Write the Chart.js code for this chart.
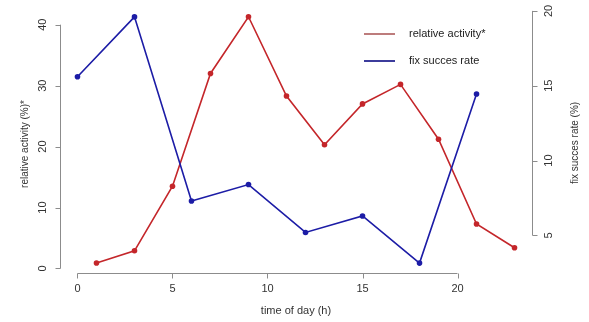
<!DOCTYPE html>
<html>
<head>
<meta charset="utf-8">
<script src="https://cdn.jsdelivr.net/npm/chart.js@4/dist/chart.umd.min.js"></script>
<style>
  html, body { margin: 0; padding: 0; background: #fff; }
  #wrap { width: 589px; height: 322px; }
</style>
</head>
<body>
<div id="wrap"><canvas id="chart1"></canvas></div>
<script>
// data
const hoursActivity = [1, 3, 5, 7, 9, 11, 13, 15, 17, 19, 21, 23];
const activity = [0.9, 2.9, 13.5, 32.0, 41.3, 28.3, 20.3, 27.0, 30.2, 21.2, 7.3, 3.4];

const hoursFix = [0, 3, 6, 9, 12, 15, 18, 21];
const fixRate = [15.6, 19.6, 7.3, 8.4, 5.2, 6.3, 3.15, 14.45];

const xTicks = [0, 5, 10, 15, 20];
const activityTicks = [0, 10, 20, 30, 40];
const fixTicks = [5, 10, 15, 20];

const FONT = "'Liberation Sans', Arial, Helvetica, sans-serif";

function toPoints(xs, ys) {
  return xs.map((h, i) => ({ x: h, y: ys[i] }));
}

// R style axes: line only from first to last tick, ticks outward, labels parallel to the axis
const rAxes = {
  id: 'rAxes',
  afterDraw(chart) {
    const ctx = chart.ctx;
    const area = chart.chartArea;
    const sx = chart.scales.x;
    const sa = chart.scales.yAct;
    const sf = chart.scales.yFix;
    ctx.save();
    ctx.strokeStyle = '#8c8c8c';
    ctx.lineWidth = 1;
    ctx.fillStyle = '#333';

    // x axis
    const yb = Math.round(area.bottom) + 0.5;
    ctx.beginPath();
    ctx.moveTo(sx.getPixelForValue(xTicks[0]), yb);
    ctx.lineTo(sx.getPixelForValue(xTicks[xTicks.length - 1]), yb);
    xTicks.forEach((t) => {
      const px = Math.round(sx.getPixelForValue(t)) + 0.5;
      ctx.moveTo(px, yb);
      ctx.lineTo(px, yb + 5);
    });
    ctx.stroke();
    ctx.font = '11px ' + FONT;
    ctx.textAlign = 'center';
    ctx.textBaseline = 'middle';
    xTicks.forEach((t) => ctx.fillText(String(t), sx.getPixelForValue(t), area.bottom + 16));
    ctx.fillText('time of day (h)', (area.left + area.right) / 2, area.bottom + 38);

    // left axis
    const xl = Math.round(area.left) + 0.5;
    ctx.beginPath();
    ctx.moveTo(xl, sa.getPixelForValue(activityTicks[0]));
    ctx.lineTo(xl, sa.getPixelForValue(activityTicks[activityTicks.length - 1]));
    activityTicks.forEach((t) => {
      const py = Math.round(sa.getPixelForValue(t)) + 0.5;
      ctx.moveTo(xl, py);
      ctx.lineTo(xl - 5, py);
    });
    ctx.stroke();
    activityTicks.forEach((t) => {
      ctx.save();
      ctx.translate(area.left - 17, sa.getPixelForValue(t));
      ctx.rotate(-Math.PI / 2);
      ctx.font = '11px ' + FONT;
      ctx.fillText(String(t), 0, 0);
      ctx.restore();
    });
    ctx.save();
    ctx.translate(area.left - 35, (area.top + area.bottom) / 2 + 4);
    ctx.rotate(-Math.PI / 2);
    ctx.font = '10px ' + FONT;
    ctx.fillText('relative activity (%)*', 0, 0);
    ctx.restore();

    // right axis
    const xr = Math.round(area.right) + 0.5;
    ctx.beginPath();
    ctx.moveTo(xr, sf.getPixelForValue(fixTicks[0]));
    ctx.lineTo(xr, sf.getPixelForValue(fixTicks[fixTicks.length - 1]));
    fixTicks.forEach((t) => {
      const py = Math.round(sf.getPixelForValue(t)) + 0.5;
      ctx.moveTo(xr, py);
      ctx.lineTo(xr + 5, py);
    });
    ctx.stroke();
    fixTicks.forEach((t) => {
      ctx.save();
      ctx.translate(area.right + 17, sf.getPixelForValue(t));
      ctx.rotate(-Math.PI / 2);
      ctx.font = '11px ' + FONT;
      ctx.fillText(String(t), 0, 0);
      ctx.restore();
    });
    ctx.save();
    ctx.translate(area.right + 43, (area.top + area.bottom) / 2 + 3);
    ctx.rotate(-Math.PI / 2);
    ctx.font = '10px ' + FONT;
    ctx.fillText('fix succes rate (%)', 0, 0);
    ctx.restore();

    // legend
    const lx = area.right - 168;
    chart.data.datasets.forEach((ds, i) => {
      const ly = area.top + 27 + i * 27;
      ctx.strokeStyle = ds.legendColor;
      ctx.lineWidth = 2;
      ctx.beginPath();
      ctx.moveTo(lx, ly);
      ctx.lineTo(lx + 31, ly);
      ctx.stroke();
      ctx.font = '11px ' + FONT;
      ctx.textAlign = 'left';
      ctx.fillStyle = '#222';
      ctx.fillText(ds.label, lx + 45, ly);
    });
    ctx.restore();
  },
};

const ctx = document.getElementById('chart1').getContext('2d');
const chart1 = new Chart(ctx, {
  type: 'line',
  data: {
    datasets: [
      {
        label: 'relative activity*',
        data: toPoints(hoursActivity, activity),
        yAxisID: 'yAct',
        borderColor: '#c4262a',
        backgroundColor: '#c4262a',
        legendColor: '#bd7c7c',
        borderWidth: 1.6,
        pointRadius: 2.8,
        pointBorderWidth: 0,
        tension: 0,
        order: 1,
      },
      {
        label: 'fix succes rate',
        data: toPoints(hoursFix, fixRate),
        yAxisID: 'yFix',
        borderColor: '#1c1ca6',
        backgroundColor: '#1c1ca6',
        legendColor: '#3c3c9c',
        borderWidth: 1.6,
        pointRadius: 2.8,
        pointBorderWidth: 0,
        tension: 0,
        order: 0,
      },
    ],
  },
  options: {
    responsive: true,
    maintainAspectRatio: false,
    animation: false,
    events: [],
    layout: { padding: { left: 60, right: 57, top: 7, bottom: 49 } },
    plugins: { legend: { display: false }, tooltip: { enabled: false } },
    scales: {
      x: { type: 'linear', min: -0.92, max: 23.92, display: false },
      yAct: { type: 'linear', position: 'left', min: -0.74, max: 42.9, display: false },
      yFix: { type: 'linear', position: 'right', min: 2.49, max: 20.26, display: false },
    },
  },
  plugins: [rAxes],
});
</script>
</body>
</html>
